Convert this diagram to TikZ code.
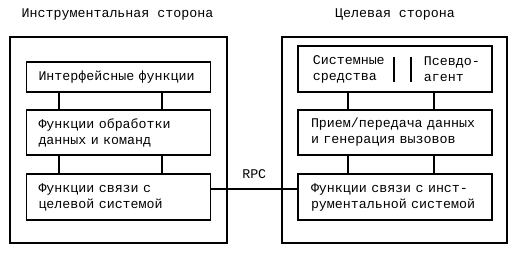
\documentclass[tikz,border=0pt]{standalone}
\usepackage{fontspec}
\setmonofont{Liberation Mono}
\usetikzlibrary{positioning}

\begin{document}
\begin{tikzpicture}[x=1pt,y=-1pt,line width=1.8pt, every node/.style={font=\ttfamily\fontsize{13.3}{16}\selectfont}]
\tikzstyle{fbox}=[draw, line width=1.8pt, outer sep=0pt, align=left, inner xsep=12pt, inner ysep=0pt]
\tikzstyle{lbox}=[fbox, text width=160pt]
\tikzstyle{rbox}=[fbox, text width=168pt, inner xsep=13pt]
\tikzstyle{side}=[draw, line width=1.8pt, outer sep=0pt, minimum height=206pt]
\useasboundingbox (0,0) rectangle (521,255);
% titles
\node (tinstr) at (117.5,14) {Инструментальная сторона};
\node (ttarg) at (395,14) {Целевая сторона};
% outer frames
\node[side, minimum width=217pt] (instr) at (118.5,140) {};
\node[side, minimum width=225pt] (targ) at (394.5,140) {};
% instrumental side
\node[lbox, minimum height=30pt] (ifn) at (118.5,77) {Интерфейсные функции};
\node[lbox, minimum height=45pt, below=18pt of ifn] (obr) {Функции обработки\\данных и команд};
\node[lbox, minimum height=46pt, below=19pt of obr] (svl) {Функции связи с\\целевой системой};
% target side
\node[fbox, minimum width=194pt, minimum height=46pt] (sys) at (395,69) {};
\node[anchor=west, align=left, inner sep=0pt] (sysl) at ([xshift=14pt]sys.west) {Системные\\средства};
\node[anchor=west, align=left, inner sep=0pt] (psv) at ([xshift=125pt]sys.west) {Псевдо-\\агент};
\node[rbox, minimum height=45pt, below=18pt of sys] (prm) {Прием/передача данных\\и генерация вызовов};
\node[rbox, minimum height=46pt, below=19pt of prm] (isv) {Функции связи с инст-\\рументальной системой};
% separator
\draw (394,57) -- (394,82);
\draw (411,57) -- (411,82);
% links
\coordinate (la) at (59,0);
\coordinate (lb) at (162,0);
\coordinate (ra) at (348,0);
\coordinate (rb) at (434,0);
\draw (ifn.south -| la) -- (obr.north -| la);
\draw (ifn.south -| lb) -- (obr.north -| lb);
\draw (obr.south -| la) -- (svl.north -| la);
\draw (obr.south -| lb) -- (svl.north -| lb);
\draw (sys.south -| ra) -- (prm.north -| ra);
\draw (sys.south -| rb) -- (prm.north -| rb);
\draw (prm.south -| ra) -- (isv.north -| ra);
\draw (prm.south -| rb) -- (isv.north -| rb);
\draw ([yshift=8pt]svl.east) -- node[above=6pt]{RPC} ([yshift=8pt]isv.west);
\end{tikzpicture}
\end{document}
